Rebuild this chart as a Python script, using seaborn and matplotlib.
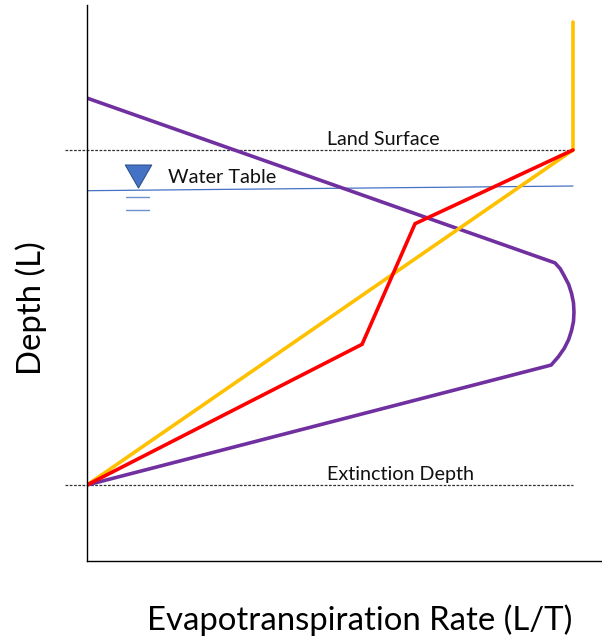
import numpy as np
import pandas as pd
import matplotlib
matplotlib.use("Agg")
import matplotlib.pyplot as plt
import seaborn as sns
from matplotlib.path import Path

sns.set_style("white")
plt.rcParams["font.family"] = ["Lato", "DejaVu Sans"]

# Evapotranspiration curves: rate (fraction of max) vs depth below land surface
# (0 = land surface, 1 = extinction depth)
linear_rate = [1.0, 1.0, 0.0]
linear_depth = [-0.382, 0.0, 1.0]

piecewise_rate = [1.0, 0.675, 0.566, 0.0]
piecewise_depth = [0.0, 0.22, 0.58, 1.0]

curved_rate = [0.0, 0.963, 0.974, 0.982, 0.991, 0.997, 1.001, 1.002,
               1.001, 0.997, 0.991, 0.982, 0.970, 0.955, 0.0]
curved_depth = [-0.155, 0.337, 0.355, 0.376, 0.401, 0.428, 0.456, 0.484,
                0.512, 0.539, 0.566, 0.592, 0.617, 0.642, 1.0]

# Water table line and reference depths
water_table_rate = [0.0, 1.0]
water_table_depth = [0.1215, 0.1075]
land_surface_depth = 0.0
extinction_depth = 1.0

frames = []
for name, xs, ys in [("curved", curved_rate, curved_depth),
                     ("linear", linear_rate, linear_depth),
                     ("piecewise", piecewise_rate, piecewise_depth)]:
    frames.append(pd.DataFrame({"rate": xs, "depth": ys, "curve": name}))
df = pd.concat(frames, ignore_index=True)

fig = plt.figure(figsize=(6.02, 6.37), dpi=100)
ax = fig.add_axes([87 / 602, 1 - 561 / 637, 1 - 87 / 602, 556 / 637])

palette = {"curved": "#7030A0", "linear": "#FFC000", "piecewise": "#FF0000"}
for name in ["curved", "linear", "piecewise"]:
    sub = df[df["curve"] == name]
    sns.lineplot(data=sub, x="rate", y="depth", sort=False, estimator=None,
                 color=palette[name], linewidth=2.6, ax=ax, legend=False,
                 solid_joinstyle="miter" if name != "curved" else "round")

# Water table
ax.plot(water_table_rate, water_table_depth, color="#4472C4", lw=0.9, zorder=1)
tri = Path([(-1.15, 1), (1.15, 1), (0, -1), (-1.15, 1)],
           [Path.MOVETO, Path.LINETO, Path.LINETO, Path.CLOSEPOLY])
ax.plot([0.105], [0.079], marker=tri, markersize=19, color="#4472C4",
        markeredgecolor="#2F528F", markeredgewidth=0.8, zorder=3)
for d in (0.139, 0.179):
    ax.plot([0.080, 0.128], [d, d], color="#6C8FD0", lw=1.0, zorder=3)
ax.text(0.167, 0.081, "Water Table", fontsize=14.3, va="center", ha="left",
        color="#111111")

# Land surface and extinction depth
for d in (land_surface_depth, extinction_depth):
    ax.plot([-0.045, 1.0], [d, d], color="#333333", lw=0.9,
            linestyle=(0, (2.2, 1.2)), clip_on=False, zorder=0)
ax.text(0.494, -0.015, "Land Surface", fontsize=14.2, va="baseline",
        ha="left", color="#111111")
ax.text(0.494, 0.985, "Extinction Depth", fontsize=14.2, va="baseline",
        ha="left", color="#111111")

ax.set_xlim(0, 515 / 486)
ax.set_ylim(411 / 335, -145 / 335)
ax.set_xticks([])
ax.set_yticks([])
for s in ("top", "right"):
    ax.spines[s].set_visible(False)
for s in ("left", "bottom"):
    ax.spines[s].set_color("black")
    ax.spines[s].set_linewidth(1.0)

ax.set_xlabel("Evapotranspiration Rate (L/T)", fontsize=23.7, color="black")
ax.set_ylabel("Depth (L)", fontsize=23.7, color="black")
ax.xaxis.set_label_coords((360 - 87) / 515, (561 - 620) / 556)
ax.xaxis.label.set_va("center")
ax.yaxis.set_label_coords((31 - 87) / 515, (561 - 308) / 556)
ax.yaxis.label.set_va("center")

fig.savefig("out.png", dpi=100)
